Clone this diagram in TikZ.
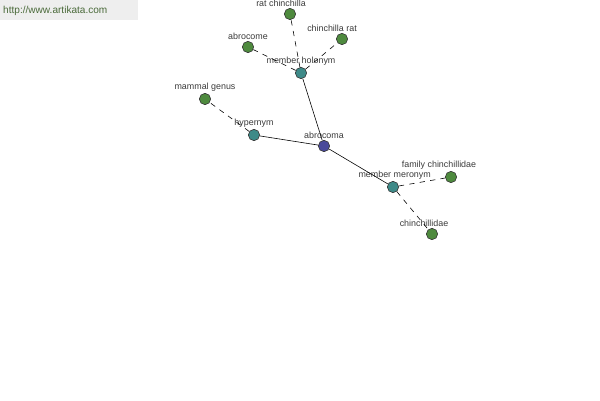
\documentclass[tikz,border=0pt]{standalone}
\usepackage{fontspec}
\setmainfont{Liberation Sans}
\usepackage{tikz}
\usetikzlibrary{positioning}
\definecolor{leafgreen}{HTML}{4E8A3E}
\definecolor{hubteal}{HTML}{3E8A88}
\definecolor{rootblue}{HTML}{4A4A9A}
\definecolor{bannergray}{HTML}{EEEEEE}
\definecolor{bannertext}{HTML}{4A6A3A}
\definecolor{labelgray}{HTML}{3A3A3A}

\begin{document}
\begin{tikzpicture}[
  x=0.03cm, y=-0.03cm,
  font=\fontsize{7.6}{9}\selectfont,
  dot/.style={draw=black!80, circle, inner sep=0pt, minimum size=0.34cm, line width=0.5pt},
  leaf/.style={dot, fill=leafgreen},
  hub/.style={dot, fill=hubteal},
  root/.style={dot, fill=rootblue},
  lbl/.style={text=labelgray, inner sep=1pt},
  solidedge/.style={line width=0.5pt},
  dashedge/.style={line width=0.5pt, dash pattern=on 4.5pt off 4.5pt}
]
\useasboundingbox (0,0) rectangle (600,400);
\fill[bannergray] (0,0) rectangle (138,20);
\node[text=bannertext, font=\fontsize{8.6}{10}\selectfont, anchor=west, inner sep=0pt] (url) at (3,11) {http://www.artikata.com};

% nodes
\node[root, label={[lbl]above:abrocoma}] (abrocoma) at (324,146) {};
\node[hub, label={[lbl]above:member holonym}] (holonym) at (301,73) {};
\node[hub, label={[lbl]above:hypernym}] (hypernym) at (254,135) {};
\node[hub, label={[lbl, xshift=0.05cm]above:member meronym}] (meronym) at (393,187) {};
\node[leaf, label={[lbl, xshift=-0.27cm]above:rat chinchilla}] (ratchinchilla) at (290,14) {};
\node[leaf, label={[lbl, xshift=-0.3cm]above:chinchilla rat}] (chinchillarat) at (342,39) {};
\node[leaf, label={[lbl]above:abrocome}] (abrocome) at (248,47) {};
\node[leaf, label={[lbl]above:mammal genus}] (mammalgenus) at (205,99) {};
\node[leaf, label={[lbl, xshift=-0.36cm]above:family chinchillidae}] (familychin) at (451,177) {};
\node[leaf, label={[lbl, xshift=-0.24cm]above:chinchillidae}] (chinchillidae) at (432,234) {};

% edges
\draw[solidedge] (abrocoma) -- (holonym);
\draw[solidedge] (abrocoma) -- (hypernym);
\draw[solidedge] (abrocoma) -- (meronym);
\draw[dashedge] (holonym) -- (ratchinchilla);
\draw[dashedge] (holonym) -- (chinchillarat);
\draw[dashedge] (holonym) -- (abrocome);
\draw[dashedge] (hypernym) -- (mammalgenus);
\draw[dashedge] (meronym) -- (familychin);
\draw[dashedge] (meronym) -- (chinchillidae);
\end{tikzpicture}
\end{document}
